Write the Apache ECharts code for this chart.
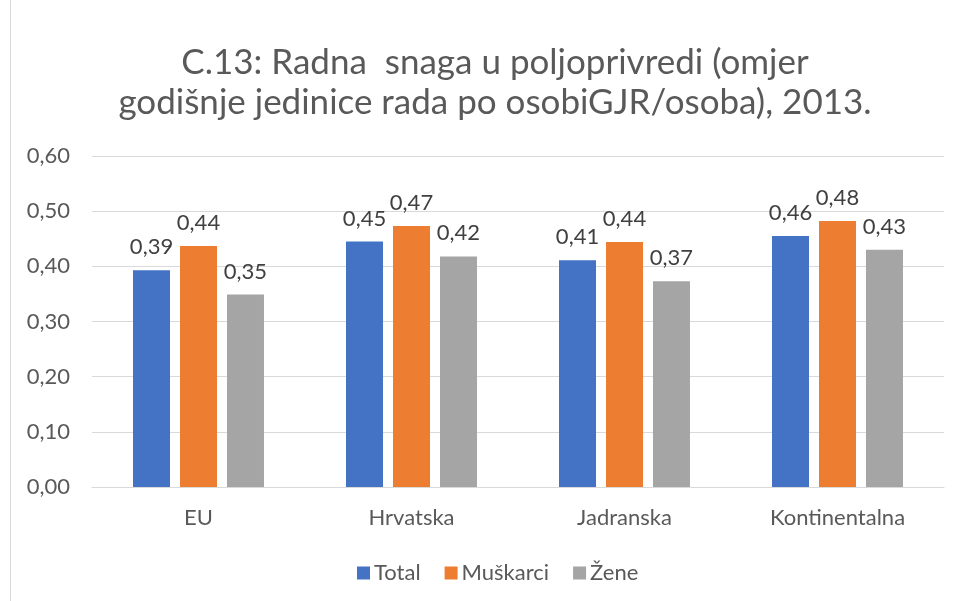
<!DOCTYPE html>
<html>
<head>
<meta charset="utf-8">
<script src="https://cdn.jsdelivr.net/npm/echarts@6/dist/echarts.min.js"></script>
<style>
html, body { margin: 0; padding: 0; background: #fff; }
#main { width: 961px; height: 601px; }
</style>
</head>
<body>
<div id="main"></div>
<script>
// C.13 radna snaga u poljoprivredi
var categories = ['EU', 'Hrvatska', 'Jadranska', 'Kontinentalna'];
var seriesNames = ['Total', 'Muškarci', 'Žene'];
var totalValues = [0.393, 0.445, 0.411, 0.455];
var muskarciValues = [0.437, 0.473, 0.444, 0.482];
var zeneValues = [0.349, 0.418, 0.373, 0.430];
var yTicks = [0, 0.1, 0.2, 0.3, 0.4, 0.5, 0.6];

var fontFam = 'Lato, "Noto Sans", sans-serif';

function fmt(v) {
    return v.toFixed(2).replace('.', ',');
}

var dom = document.getElementById("main");
var myChart = echarts.init(dom);
var option = null;

function barSeries(name, data) {
    return {
        name: name,
        type: 'bar',
        data: data,
        barWidth: 37,
        barGap: '27%',
        label: {
            show: true,
            position: 'top',
            distance: 12,
            color: '#404040',
            fontSize: 22,
            fontFamily: fontFam,
            formatter: function (p) { return fmt(p.value); }
        }
    };
}

option = {
    color: ['#4472c4', '#ed7d31', '#a5a5a5'],
    animation: false,
    title: {
        text: 'C.13: Radna  snaga u poljoprivredi (omjer\ngodišnje jedinice rada po osobiGJR/osoba), 2013.',
        left: 490,
        textAlign: 'center',
        top: 38,
        textStyle: {
            color: '#595959',
            fontSize: 35,
            fontWeight: 'normal',
            fontFamily: fontFam,
            lineHeight: 40
        }
    },
    graphic: [
        {
            type: 'rect',
            shape: { x: 10.5, y: -5, width: 1000, height: 1000 },
            style: { fill: 'none', stroke: '#d9d9d9', lineWidth: 1 },
            silent: true
        }
    ],
    legend: {
        data: seriesNames,
        top: 557,
        left: 352,
        itemWidth: 13,
        itemHeight: 13,
        itemGap: 24,
        icon: 'rect',
        textStyle: {
            color: '#595959',
            fontSize: 22,
            fontFamily: fontFam,
            padding: [0, 0, 0, -1]
        }
    },
    grid: {
        left: 92,
        right: 17,
        top: 156,
        bottom: 114
    },
    xAxis: {
        type: 'category',
        data: categories,
        axisTick: { show: false },
        axisLine: { lineStyle: { color: '#d9d9d9', width: 1 } },
        axisLabel: {
            color: '#595959',
            fontSize: 22,
            fontFamily: fontFam,
            margin: 20
        }
    },
    yAxis: {
        type: 'value',
        min: yTicks[0],
        max: yTicks[yTicks.length - 1],
        interval: 0.1,
        axisTick: { show: false },
        axisLine: { show: false },
        splitLine: { lineStyle: { color: '#d9d9d9', width: 1 } },
        axisLabel: {
            color: '#595959',
            fontSize: 22,
            fontFamily: fontFam,
            margin: 22,
            formatter: function (v) { return fmt(v); }
        }
    },
    series: [
        barSeries(seriesNames[0], totalValues),
        barSeries(seriesNames[1], muskarciValues),
        barSeries(seriesNames[2], zeneValues)
    ]
};
if (option && typeof option === "object") {
    myChart.setOption(option, true);
    window.onresize = myChart.resize;
}
</script>
</body>
</html>
